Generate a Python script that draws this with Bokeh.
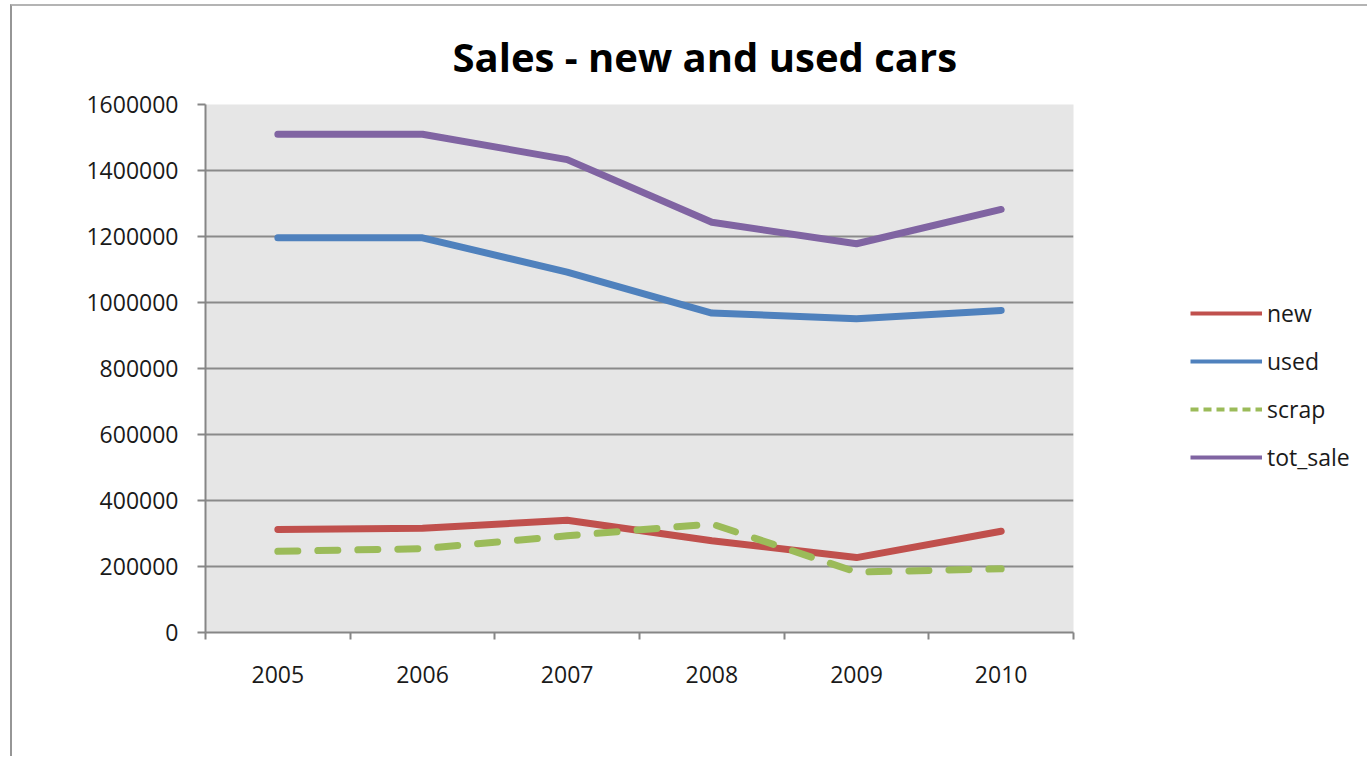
from bokeh.plotting import figure
from bokeh.models import (ColumnDataSource, FixedTicker, BasicTickFormatter,
                          Legend, LegendItem, Range1d, Title)
from bokeh.embed import file_html
from bokeh.resources import INLINE

# ---- data ----
years = ["2005", "2006", "2007", "2008", "2009", "2010"]
new = [312000, 316000, 340000, 278000, 227000, 307000]
used = [1196000, 1196000, 1092000, 968000, 951000, 976000]
scrap = [246000, 254000, 293000, 329000, 183000, 193000]
tot_sale = [1510000, 1510000, 1433000, 1243000, 1178000, 1282000]
y_ticks = [0, 200000, 400000, 600000, 800000, 1000000, 1200000, 1400000, 1600000]

FONT = "Open Sans"
xs = [i + 0.5 for i in range(len(years))]
src = ColumnDataSource(dict(x=xs, new=new, used=used, scrap=scrap, tot_sale=tot_sale))

p = figure(frame_width=868, frame_height=528, output_backend="svg", toolbar_location=None,
           x_range=Range1d(0, len(years)), y_range=Range1d(y_ticks[0], y_ticks[-1]),
           min_border_left=193, min_border_right=0, min_border_top=98, min_border_bottom=124)
p.styles = {"margin-left": "10px", "margin-top": "4px",
            "border-left": "2px solid #969696", "border-top": "2px solid #b4b4b4"}
p.background_fill_color = "#e6e6e6"
p.border_fill_color = "white"
p.outline_line_color = None

# title
t = Title(text="Sales - new and used cars", text_font=FONT, text_font_size="40px",
          text_font_style="bold", text_color="black", align="left", offset=247, standoff=41)
p.title = t

# x axis: labels at category centres, ticks at category boundaries
p.xaxis.ticker = FixedTicker(ticks=xs, minor_ticks=list(range(len(years) + 1)))
p.xaxis.major_label_overrides = {x: y for x, y in zip(xs, years)}
p.xaxis.major_tick_out = 0
p.xaxis.major_tick_in = 0
p.xaxis.minor_tick_out = 7
p.xaxis.minor_tick_in = 0
p.xaxis.minor_tick_line_color = "#868686"
p.xaxis.minor_tick_line_width = 2
p.xaxis.axis_line_color = "#868686"
p.xaxis.axis_line_width = 2
p.xaxis.major_label_text_font = FONT
p.xaxis.major_label_text_font_size = "23px"
p.xaxis.major_label_text_color = "#1a1a1a"
p.xaxis.major_label_standoff = 26
p.xgrid.grid_line_color = None

# y axis
p.yaxis.ticker = FixedTicker(ticks=y_ticks, minor_ticks=[])
p.yaxis.formatter = BasicTickFormatter(use_scientific=False)
p.yaxis.major_tick_out = 8
p.yaxis.major_tick_in = 0
p.yaxis.major_tick_line_color = "#868686"
p.yaxis.major_tick_line_width = 2
p.yaxis.axis_line_color = "#868686"
p.yaxis.axis_line_width = 2
p.yaxis.major_label_text_font = FONT
p.yaxis.major_label_text_font_size = "23px"
p.yaxis.major_label_text_color = "#1a1a1a"
p.yaxis.major_label_standoff = 19
p.ygrid.grid_line_color = "#8a8a8a"
p.ygrid.grid_line_width = 2

# series
COLORS = {"new": "#C0504D", "used": "#4F81BD", "scrap": "#9BBB59", "tot_sale": "#8064A2"}
for name in ["new", "used", "scrap", "tot_sale"]:
    p.line("x", name, source=src, line_color=COLORS[name], line_width=7, line_cap="round",
           line_join="round", line_dash="20 20" if name == "scrap" else "solid")

# legend keys (thinner, as in the reference legend); proxies draw nothing in the plot
items = []
for name in ["new", "used", "scrap", "tot_sale"]:
    r = p.line(x=[float("nan")], y=[float("nan")], line_color=COLORS[name], line_width=4,
               line_dash="8 5" if name == "scrap" else "solid")
    items.append(LegendItem(label=name, renderers=[r]))

legend = Legend(items=items, location=(117, 159), orientation="vertical",
                glyph_width=72, glyph_height=30, label_height=30, spacing=16,
                label_standoff=5, padding=0, margin=0,
                label_text_font=FONT, label_text_font_size="23px", label_text_color="#1a1a1a",
                border_line_alpha=0, background_fill_alpha=0)
p.add_layout(legend, "right")

open("out.html", "w").write(file_html(p, INLINE))
